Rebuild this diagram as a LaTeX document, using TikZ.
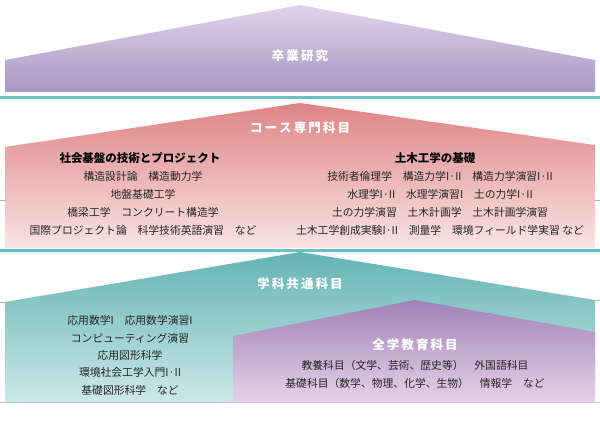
\documentclass[tikz,border=0pt]{standalone}
\usepackage{fontspec}
\setmainfont{Noto Sans CJK JP}
\definecolor{pA}{RGB}{222,212,234}
\definecolor{pB}{RGB}{170,150,196}
\definecolor{tl}{RGB}{110,190,190}
\definecolor{rA}{RGB}{222,132,134}
\definecolor{rB}{RGB}{250,228,228}
\definecolor{gA}{RGB}{100,180,180}
\definecolor{gB}{RGB}{205,232,232}
\definecolor{vA}{RGB}{160,130,184}
\definecolor{vB}{RGB}{230,210,232}
\begin{document}
\begin{tikzpicture}[x=1pt,y=-1pt,
  body/.style={font=\fontsize{10.8}{12}\selectfont, text=black!85, inner sep=0pt},
  head/.style={font=\bfseries\fontsize{11.5}{13}\selectfont, text=black, inner sep=0pt},
  title/.style={font=\bfseries\fontsize{12.5}{14}\selectfont, text=white, inner sep=0pt},
  tick/.style={draw=gray!60, line width=0.6pt}]
\useasboundingbox (0,0) rectangle (600,430);
\fill[white] (0,0) rectangle (600,430);
% top pentagon
\shade[top color=pA, bottom color=pB]
  (5,92) -- (5,60) -- (300,5) -- (595,60) -- (595,92) -- cycle;
\node[title] (t1) at (300,56) {卒\,業\,研\,究};
\fill[tl] (0,96) rectangle (600,99);
% pink pentagon
\shade[top color=rA, bottom color=rB]
  (5,248) -- (5,147) -- (300,103) -- (595,145) -- (595,248) -- cycle;
\node[title] (t2) at (300,128) {コ\,ー\,ス\,専\,門\,科\,目};
\draw[tick] (0,200) -- (5,200); \draw[tick] (595,200) -- (600,200);
\node[head] (h1) at (140,158) {社会基盤の技術とプロジェクト};
\node[body] (a1) at (143,176) {構造設計論\quad 構造動力学};
\node[body] (a2) at (143,194) {地盤基礎工学};
\node[body] (a3) at (143,212) {橋梁工学\quad コンクリート構造学};
\node[body] (a4) at (143,230) {国際プロジェクト論\quad 科学技術英語演習\quad など};
\node[head] (h2) at (435,158) {土木工学の基礎};
\node[body] (b1) at (440,176) {技術者倫理学\quad 構造力学I·II\quad 構造力学演習I·II};
\node[body] (b2) at (440,194) {水理学I·II\quad 水理学演習I\quad 土の力学I·II};
\node[body] (b3) at (440,212) {土の力学演習\quad 土木計画学\quad 土木計画学演習};
\node[body] (b4) at (440,230) {土木工学創成実験I·II\quad 測量学\quad 環境フィールド学実習 など};
\fill[tl] (0,249) rectangle (600,252);
% teal pentagon
\shade[top color=gA, bottom color=gB]
  (5,402) -- (5,302) -- (300,252) -- (595,300) -- (595,402) -- cycle;
\node[title] (t3) at (300,284) {学\,科\,共\,通\,科\,目};
\draw[tick] (0,302) -- (5,302); \draw[tick] (595,300) -- (600,300);
\draw[gray!45, line width=0.8pt] (0,402.5) -- (600,402.5);
\node[body] (c1) at (130,320) {応用数学I\quad 応用数学演習I};
\node[body] (c2) at (130,338) {コンピューティング演習};
\node[body] (c3) at (130,355) {応用図形科学};
\node[body] (c4) at (130,372) {環境社会工学入門I·II};
\node[body] (c5) at (130,390) {基礎図形科学\quad など};
% purple inner
\shade[top color=vA, bottom color=vB]
  (233,402) -- (233,336) -- (415,300) -- (595,332) -- (595,402) -- cycle;
\node[title] (t4) at (415,345) {全\,学\,教\,育\,科\,目};
\node[body] (d1) at (415,365) {教養科目（文学、芸術、歴史等）\quad 外国語科目};
\node[body] (d2) at (415,383) {基礎科目（数学、物理、化学、生物）\quad 情報学\quad など};
\end{tikzpicture}
\end{document}
